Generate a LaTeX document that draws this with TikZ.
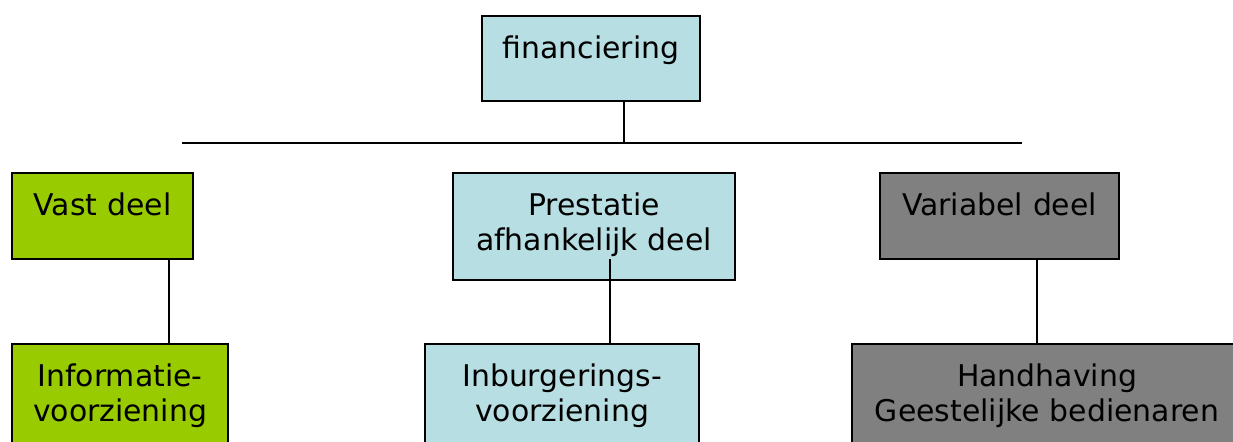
\documentclass[tikz,border=0pt]{standalone}
\usepackage{fontspec}
\setmainfont{DejaVu Sans}

\definecolor{deelgreen}{RGB}{153,204,0}
\definecolor{deelblue}{RGB}{183,222,226}
\definecolor{deelgrey}{RGB}{128,128,128}

\tikzset{
  deelbox/.style={draw=black,very thick,anchor=north west,align=center,
    inner xsep=0pt,inner ysep=0.4cm,text height=0.44cm,
    font=\fontsize{17}{20.4}\selectfont},
}

\begin{document}
\begin{tikzpicture}[draw=black,very thick]
            \useasboundingbox (0,0) rectangle (24.66,8.84);
            \clip (0,0) rectangle (24.66,8.84);

            \node[deelbox,fill=deelblue,text width=4.36cm,text depth=0.46cm] (fin) at (9.62,8.54) {financiering};

            \node[deelbox,fill=deelgreen,text width=3.62cm,text depth=0.48cm] (vast) at (0.22,5.40) {Vast deel};
            \node[deelbox,fill=deelblue,text width=5.64cm,text depth=0.90cm] (prest) at (9.04,5.40) {Prestatie\\afhankelijk deel};
            \node[deelbox,fill=deelgrey,text width=4.78cm,text depth=0.48cm] (var) at (17.58,5.40) {Variabel deel};

            \node[deelbox,fill=deelgreen,text width=4.32cm,text depth=1.2cm] (info) at (0.22,1.98) {Informatie-\\voorziening};
            \node[deelbox,fill=deelblue,text width=5.48cm,text depth=1.2cm] (inb) at (8.48,1.98) {Inburgerings-\\voorziening};
            \node[deelbox,fill=deelgrey,text width=7.80cm,text depth=1.2cm] (hand) at (17.02,1.98) {Handhaving\\Geestelijke bedienaren};

            % horizontal bar under financiering
            \coordinate (busL) at (3.64,5.98);
            \coordinate (busR) at (20.44,5.98);
            \draw (busL) -- (busR);
            \draw ([xshift=0.66cm]fin.south) -- ([xshift=0.66cm]fin.south |- busL);

            \draw ([xshift=1.33cm]vast.south) -- ([xshift=1.33cm]vast.south |- info.north);
            \draw ([xshift=0.96cm]inb.north) -- ([xshift=0.96cm,yshift=0.44cm]inb.north |- prest.south);
            \draw ([xshift=0.75cm]var.south) -- ([xshift=0.75cm]var.south |- hand.north);
        \end{tikzpicture}
\end{document}
